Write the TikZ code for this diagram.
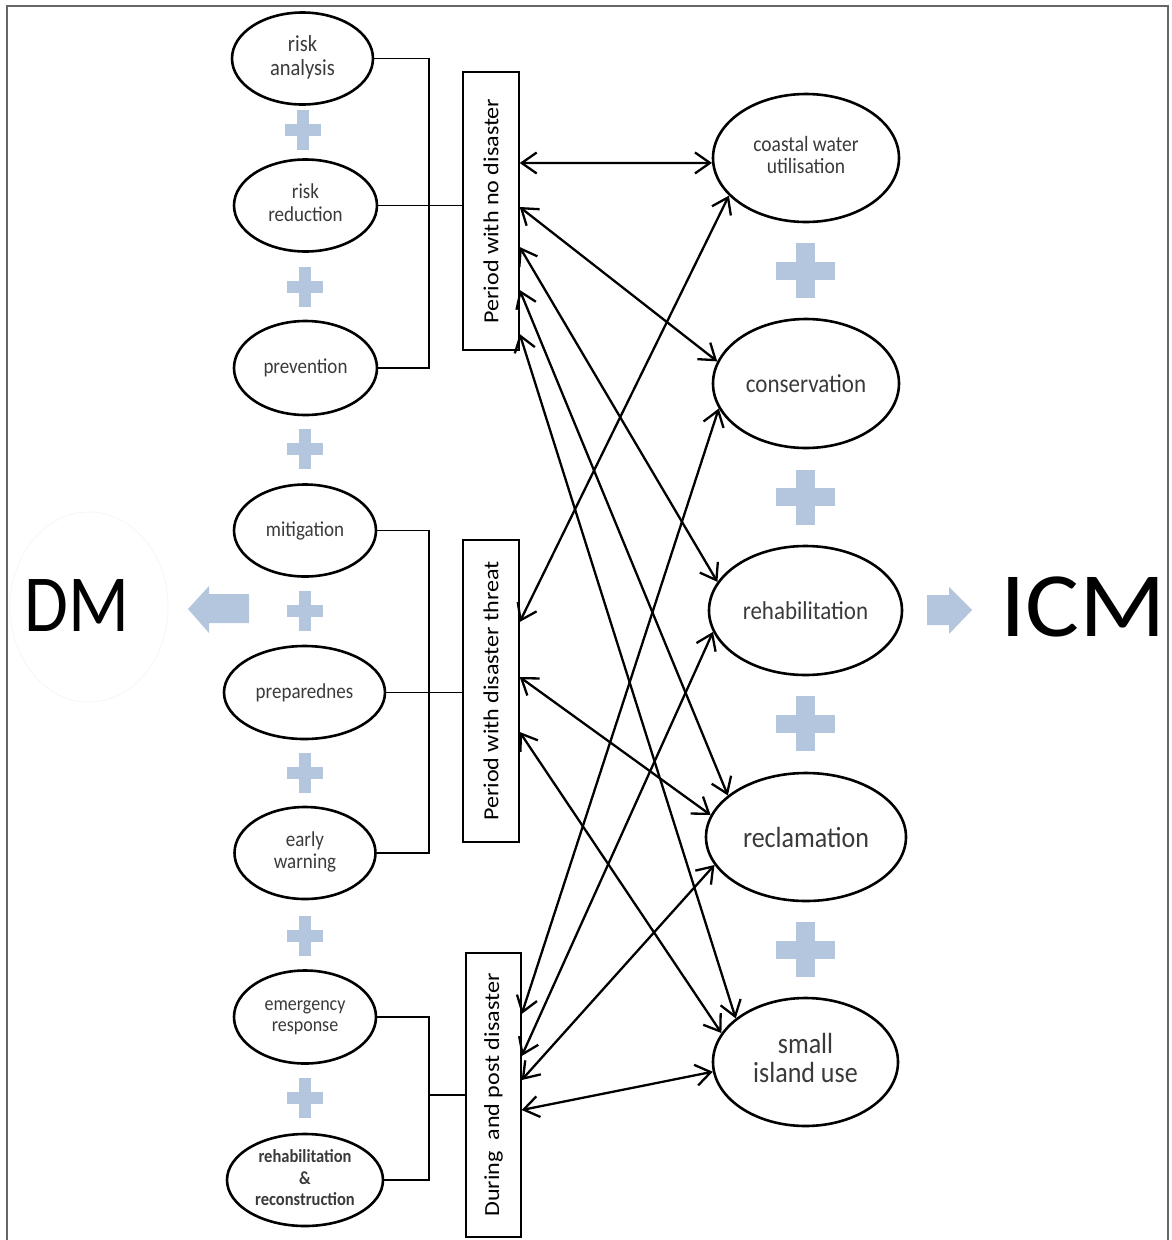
\documentclass[tikz,border=0pt]{standalone}
\usepackage{fontspec}
\setmainfont{Carlito}
\usepackage{graphicx}
\usetikzlibrary{shapes.geometric,arrows.meta}
\definecolor{plusblue}{RGB}{180,197,222}
\definecolor{inktext}{RGB}{58,58,58}
% slightly tall lettering
\newcommand\vstr[1]{\scalebox{1}[1.12]{#1}}
\newcommand\mlines[1]{\begin{tabular}{@{}c@{}}#1\end{tabular}}
\newcommand\fsz[2]{\fontsize{#1}{#2}\selectfont}
\newcommand\sidetext[1]{\rotatebox{90}{\scalebox{1.12}[1]{\fsz{21.5}{24}#1}}}

\begin{document}
\begin{tikzpicture}[x=1pt,y=-1pt,
  dmstage/.style={ellipse, draw, line width=2.6pt, inner sep=0pt,
    minimum width=141pt, minimum height=92pt, text=inktext},
  icmarea/.style={ellipse, draw, line width=2.6pt, inner sep=0pt,
    minimum width=186pt, minimum height=128pt, text=inktext},
  period/.style={rectangle, draw, line width=1.4pt, inner sep=0pt,
    minimum width=56pt},
  bracket/.style={line width=1.5pt},
  relation/.style={line width=2.3pt,
    {Straight Barb[length=15pt,width=21pt]}-{Straight Barb[length=15pt,width=21pt]}},
  smallplus/.pic={
    \fill[plusblue] (-18,-6) rectangle (18,6);
    \fill[plusblue] (-6,-20) rectangle (6,20);},
  bigplus/.pic={
    \fill[plusblue] (-29.5,-9) rectangle (29.5,9);
    \fill[plusblue] (-9.5,-27.5) rectangle (9.5,27.5);}
]
\useasboundingbox (0,0) rectangle (1171,1240);

% frame
\draw[line width=1.2pt, black!60] (7,1240) -- (7,6) -- (1168,6) -- (1168,1240);

% plus signs between the stages
\pic at (303,130) {smallplus};
\foreach \py in {287,449,611,773,936,1098} \pic at (305,\py) {smallplus};
\foreach \py in {270.5,497,723.5,949.5} \pic at (805.5,\py) {bigplus};

% DM and ICM labels with their block arrows
\draw[black!4, line width=0.8pt] (89,607) ellipse [x radius=79pt, y radius=95pt];
\node[inner sep=0pt, anchor=base] (dm) at (77,631) {\fsz{81}{81}\scalebox{0.88}[1]{DM}};
\node[inner sep=0pt, anchor=base] (icm) at (1083,636) {\fsz{92}{92}\scalebox{1.1}[1]{ICM}};
\fill[plusblue] (188,609) -- (209,586) -- (209,594) -- (249,594) -- (249,623)
  -- (209,623) -- (209,633) -- cycle;
\fill[plusblue] (927,595) -- (949,595) -- (949,587) -- (972,610) -- (949,634)
  -- (949,625) -- (927,625) -- cycle;

% disaster management stages
\node[dmstage] (ra) at (302.5,58.5) {\vstr{\fsz{20.5}{22}\mlines{risk\\analysis}}};
\node[dmstage, minimum width=143pt] (rr) at (305.5,205.5) {\vstr{\fsz{19}{20.5}\mlines{risk\\reduction}}};
\node[dmstage, minimum width=143pt, minimum height=94pt] (pv) at (305.5,368) {\vstr{\fsz{19}{20}prevention}};
\node[dmstage, minimum width=142pt] (mt) at (305,530.5) {\vstr{\fsz{19}{20}mitigation}};
\node[dmstage, minimum width=161pt, minimum height=93pt] (pp) at (304.5,692.5) {\vstr{\fsz{19}{20}preparednes}};
\node[dmstage] (ew) at (305,853) {\vstr{\fsz{19}{20}\mlines{early\\warning}}};
\node[dmstage, minimum width=142pt, minimum height=93pt] (er) at (305,1017) {\vstr{\fsz{18}{19}\mlines{emergency\\response}}};
\node[dmstage, minimum width=156pt] (rc) at (305,1180) {\vstr{\fsz{16.5}{19}\bfseries\mlines{rehabilitation\\\&\\reconstruction}}};

% periods
\node[period, minimum height=278pt] (r1) at (491,211) {\sidetext{Period with no disaster}};
\node[period, minimum height=302pt] (r2) at (491,691) {\sidetext{Period with disaster threat}};
\node[period, minimum width=55pt, minimum height=284pt] (r3) at (493.5,1095) {\sidetext{During\ \ and post disaster}};

% coastal management areas
\node[icmarea] (e1) at (806,158) {\vstr{\fsz{19.5}{18}\mlines{coastal water\\utilisation}}};
\node[icmarea, minimum height=129pt] (e2) at (806,383.5) {\vstr{\fsz{23}{24}conservation}};
\node[icmarea, minimum width=193pt, minimum height=129pt] (e3) at (805.5,610.5) {\vstr{\fsz{23}{24}rehabilitation}};
\node[icmarea, minimum width=200pt] (e4) at (806,837) {\vstr{\fsz{26}{28}reclamation}};
\node[icmarea, minimum width=185pt] (e5) at (805.5,1062) {\vstr{\fsz{26}{24}\mlines{small\\island use}}};

% stage groups joined to their period
\coordinate (bx) at (429,0);
\draw[bracket] (ra.east) -- (ra.east -| bx) -- (pv.east -| bx) -- (pv.east);
\draw[bracket] (rr.east) -- (rr.east -| r1.west);
\draw[bracket] (mt.east) -- (mt.east -| bx) -- (ew.east -| bx) -- (ew.east);
\draw[bracket] (pp.east) -- (pp.east -| r2.west);
\draw[bracket] (er.east) -- (er.east -| bx) -- (rc.east -| bx) -- (rc.east);
\draw[bracket] (bx |- r3.west) -- (r3.west);

% relations between periods and coastal areas
\draw[relation] (r1.east |- 0,163) -- (e1.183);
\draw[relation] (r1.east |- 0,207) -- (e2.166);
\draw[relation] (r1.east |- 0,247) -- (e3.162);
\draw[relation] (r1.east |- 0,290) -- (e4.152);
\draw[relation] (r1.east |- 0,334) -- (e5.148);
\draw[relation] (r2.east |- 0,622) -- (e1.206);
\draw[relation] (r2.east |- 0,677) -- (e4.167);
\draw[relation] (r2.east |- 0,732) -- (e5.161);
\draw[relation] (r3.east |- 0,1014) -- (e2.196);
\draw[relation] (r3.east |- 0,1056) -- (e3.193);
\draw[relation] (r3.east |- 0,1080) -- (e4.197);
\draw[relation] (r3.east |- 0,1110) -- (e5.186);
\end{tikzpicture}
\end{document}
